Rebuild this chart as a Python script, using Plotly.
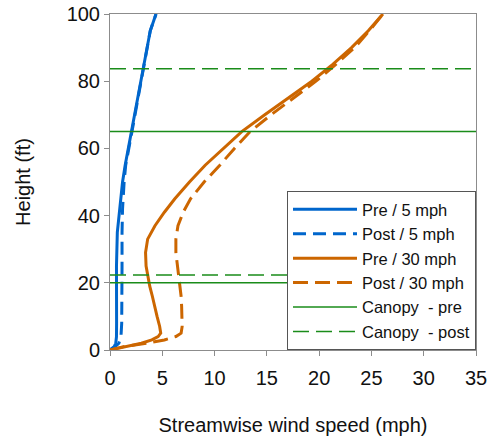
import plotly.graph_objects as go

# Heights (ft) and streamwise wind speeds (mph)
h_5 = [0, 1, 2, 4, 8, 15, 25, 35, 42, 50, 55, 65, 75, 85, 95, 100]
pre_5 = [0, 0.4, 0.55, 0.62, 0.63, 0.62, 0.62, 0.7, 0.9, 1.2, 1.45, 2.05, 2.7, 3.25, 3.85, 4.4]
post_5 = [0, 0.5, 0.85, 1.05, 1.12, 1.15, 1.15, 1.15, 1.2, 1.35, 1.5, 2.1, 2.7, 3.25, 3.85, 4.4]

h_30 = [0, 1, 2, 3, 4, 5, 7, 10, 13, 16, 19, 22, 25, 29, 33, 37, 41, 45, 50, 55, 60, 65,
        70, 75, 80, 85, 90, 95, 100]
pre_30 = [0, 1.5, 3.0, 4.0, 4.6, 4.85, 4.75, 4.5, 4.3, 4.05, 3.8, 3.6, 3.45, 3.4, 3.6, 4.3,
          5.2, 6.2, 7.6, 9.1, 10.8, 12.6, 14.8, 17.0, 19.3, 21.3, 23.1, 24.7, 26.1]
post_30 = [0, 1.3, 3.5, 5.2, 6.3, 6.8, 6.9, 6.9, 6.85, 6.8, 6.7, 6.55, 6.45, 6.3, 6.3, 6.5,
           7.0, 7.7, 9.0, 10.5, 11.9, 13.4, 15.4, 17.6, 19.7, 21.6, 23.4, 24.8, 26.1]

canopy_pre = [20, 65]
canopy_post = [22.3, 83.7]
x_extent = [0, 35]

x_ticks = [0, 5, 10, 15, 20, 25, 30, 35]
y_ticks = [0, 20, 40, 60, 80, 100]

BLUE = "#0066cc"
ORANGE = "#cc6600"
GREEN = "#1a8c1a"
FONT = "Liberation Sans, Arial, sans-serif"


def hlines(levels):
    xs, ys = [], []
    for lv in levels:
        xs += [x_extent[0], x_extent[1], None]
        ys += [lv, lv, None]
    return xs, ys


fig = go.Figure()
fig.add_trace(go.Scatter(x=pre_5, y=h_5, mode="lines", name="Pre / 5 mph",
                         line=dict(color=BLUE, width=3)))
fig.add_trace(go.Scatter(x=post_5, y=h_5, mode="lines", name="Post / 5 mph",
                         line=dict(color=BLUE, width=3, dash="13px,7px")))
fig.add_trace(go.Scatter(x=pre_30, y=h_30, mode="lines", name="Pre / 30 mph",
                         line=dict(color=ORANGE, width=3)))
fig.add_trace(go.Scatter(x=post_30, y=h_30, mode="lines", name="Post / 30 mph",
                         line=dict(color=ORANGE, width=3, dash="15px,7px")))
cx, cy = hlines(canopy_pre)
fig.add_trace(go.Scatter(x=cx, y=cy, mode="lines", name="Canopy  - pre",
                         line=dict(color=GREEN, width=1.5)))
cx, cy = hlines(canopy_post)
fig.add_trace(go.Scatter(x=cx, y=cy, mode="lines", name="Canopy  - post",
                         line=dict(color=GREEN, width=1.5, dash="16px,7px")))

axis_common = dict(
    showgrid=False, zeroline=False, showline=True, linecolor="#8c8c8c", linewidth=1,
    mirror=True, ticks="outside", ticklen=5, tickcolor="#8c8c8c", automargin=False,
    tickfont=dict(family=FONT, size=20, color="#111"),
)

fig.update_layout(
    width=493, height=442,
    margin=dict(l=110, r=17, t=14, b=92),
    paper_bgcolor="white", plot_bgcolor="white",
    font=dict(family=FONT, color="#111"),
    xaxis=dict(range=x_extent, tickvals=x_ticks, ticklabelstandoff=5,
               title=dict(text="Streamwise wind speed (mph)", font=dict(size=20), standoff=29),
               **axis_common),
    yaxis=dict(range=[0, 100], tickvals=y_ticks,
               title=dict(text="Height (ft)", font=dict(size=20), standoff=30),
               **axis_common),
    legend=dict(x=1, y=0, xanchor="right", yanchor="bottom", bgcolor="white",
                bordercolor="#555", borderwidth=1, itemwidth=64,
                font=dict(size=16.5, color="#111")),
    showlegend=True,
)

fig.write_html("out.html", config={"displayModeBar": False})

with open("out.html", "r", encoding="utf-8") as f:
    html = f.read()
html = html.replace("<head>", "<head><style>html,body{margin:0;padding:0;overflow:hidden}</style>", 1)
with open("out.html", "w", encoding="utf-8") as f:
    f.write(html)
